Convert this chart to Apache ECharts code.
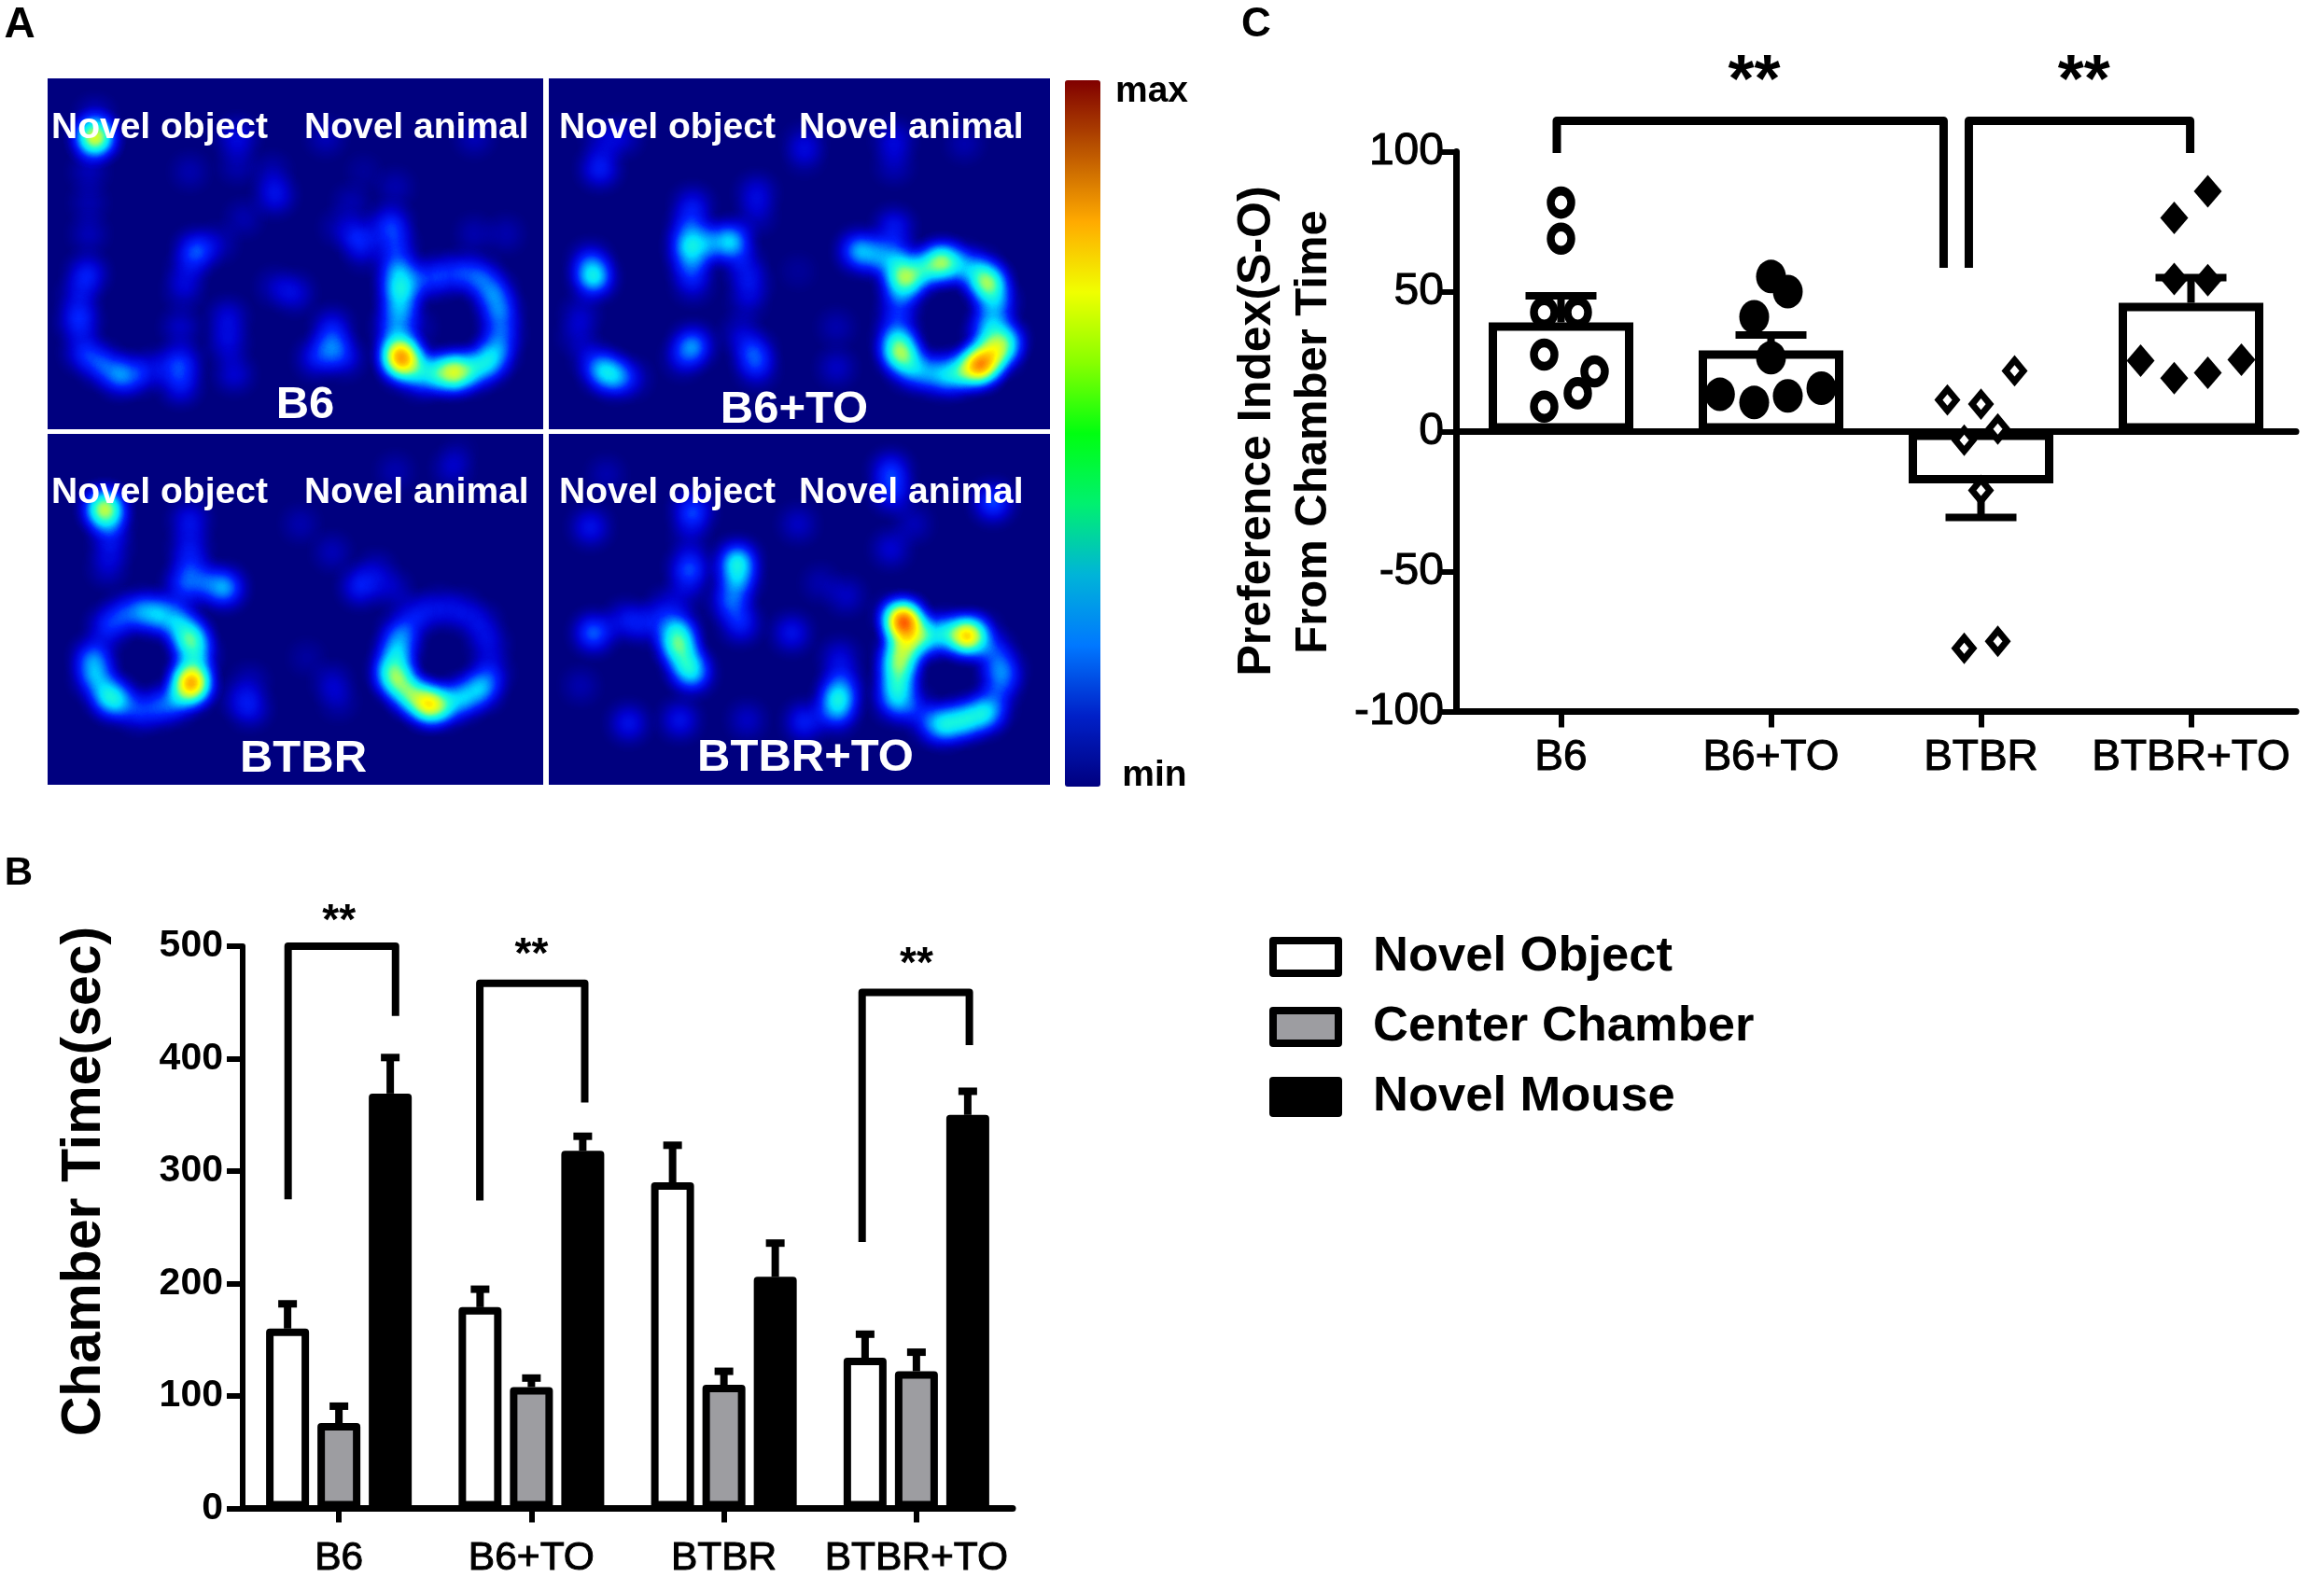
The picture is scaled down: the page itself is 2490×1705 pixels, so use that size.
<!DOCTYPE html>
<html><head><meta charset="utf-8">
<style>html,body{margin:0;padding:0;background:#fff}#c{width:2490px;height:1705px}</style>
<script src="https://cdn.jsdelivr.net/npm/echarts@6/dist/echarts.min.js"></script>
</head><body><div id="c"></div>
<script>
const FONT = '"Liberation Sans", Arial, sans-serif';
const categories = ['B6', 'B6+TO', 'BTBR', 'BTBR+TO'];

// Panel B: chamber time (sec)
const novelObject = [160, 179, 290, 134];
const centerChamber = [76, 108, 110, 122];
const novelMouse = [369, 318, 206, 350];
const novelObjectErr = [182, 195, 323, 155];
const centerChamberErr = [91, 116, 122, 139];
const novelMouseErr = [401, 331, 236, 371];
const timeTicks = [0, 100, 200, 300, 400, 500];
const bracketB1 = [[-0.264, 275], [-0.264, 500], [0.294, 500], [0.294, 438]];
const bracketB2 = [[0.732, 274], [0.732, 467], [1.277, 467], [1.277, 361]];
const bracketB3 = [[2.718, 237], [2.718, 459], [3.275, 459], [3.275, 412]];
const starsB = [[0, 528], [1, 498], [3, 490]];

// Panel C: preference index
const prefMean = [39, 29, -18.5, 46];
const prefErr = [48.5, 34.5, -30.7, 55];
const ptsB6 = [[0, 81.8], [0, 68.9], [-0.08, 42.6], [0.08, 42.6], [-0.08, 27.5], [0.16, 21.5], [0.08, 13.7], [-0.08, 8.9]];
const ptsB6TO = [[1, 55.4], [1.08, 50], [0.92, 41], [1, 26.4], [0.757, 13.3], [0.92, 10.4], [1.08, 12.75], [1.24, 15.5]];
const ptsBTBR = [[2.16, 21.7], [1.84, 11.3], [2, 9.8], [2.08, 0.9], [1.92, -3.1], [2, -21], [2.08, -74.9], [1.92, -77.4]];
const ptsBTBRTO = [[3.08, 85.8], [2.92, 76.3], [2.92, 54.5], [3.08, 54.1], [2.76, 25.3], [3.24, 25.7], [2.92, 19.1], [3.08, 21]];
const bracketC1 = [[-0.02, 99.5], [-0.02, 111], [1.822, 111], [1.822, 58.5]];
const bracketC2 = [[1.942, 58.5], [1.942, 111], [2.996, 111], [2.996, 99.5]];
const starsC = [[0.92, 129.5], [2.49, 129.5]];

const heatB6 = [[150,190,.85],[150,120,.15],[600,190,.22],[880,190,.12],[1350,190,.12],[130,300,.12],[130,400,.1],[130,500,.12],[125,630,.3],[100,700,.2],[100,780,.35],[115,880,.3],[170,920,.35],[230,955,.48],[290,950,.25],[350,930,.15],[420,915,.35],[420,985,.28],[420,800,.15],[430,680,.15],[470,555,.42],[440,620,.15],[540,530,.12],[620,450,.1],[720,375,.25],[710,300,.1],[600,280,.1],[450,300,.1],[570,770,.2],[570,850,.2],[590,950,.18],[780,690,.2],[720,670,.12],[900,865,.4],[900,800,.25],[850,900,.25],[940,900,.2],[985,510,.3],[1000,560,.12],[920,480,.1],[960,400,.1],[1085,470,.35],[1100,540,.3],[1110,620,.5],[1115,680,.62],[1115,740,.45],[1100,800,.4],[1110,870,.5],[1120,900,.75],[1125,930,.45],[1180,960,.35],[1230,950,.5],[1285,945,.55],[1340,940,.5],[1390,915,.55],[1420,880,.4],[1435,820,.35],[1430,750,.42],[1410,690,.42],[1370,640,.35],[1310,625,.3],[1240,635,.3],[1180,650,.25],[1170,800,.1],[1180,920,.25],[1450,500,.1],[1350,500,.1],[1000,300,.06],[1100,350,.1],[150,190,.6],[1118,895,.8],[1285,945,.7]];
const heatB6TO = [[160,290,.3],[170,200,.15],[230,190,.15],[800,210,.15],[1080,200,.2],[1080,280,.12],[1300,210,.1],[650,370,.2],[650,440,.12],[800,250,.1],[140,640,.7],[130,590,.3],[450,410,.25],[440,480,.3],[440,540,.6],[500,530,.4],[570,525,.65],[445,600,.35],[450,660,.2],[610,600,.2],[630,660,.2],[170,940,.55],[210,960,.45],[130,900,.15],[260,965,.15],[450,860,.5],[420,900,.2],[640,880,.35],[650,930,.25],[600,820,.15],[100,760,.15],[90,830,.12],[620,720,.12],[900,930,.15],[900,800,.1],[780,620,.06],[970,555,.55],[1030,570,.42],[1080,480,.28],[1090,580,.45],[1100,640,.6],[1130,640,.65],[1180,610,.5],[1230,590,.6],[1290,600,.4],[1345,620,.45],[1375,660,.6],[1400,720,.45],[1385,780,.42],[1370,830,.4],[1420,850,.45],[1100,700,.35],[1090,770,.25],[1090,840,.5],[1100,885,.7],[1130,930,.45],[1180,945,.4],[1240,955,.5],[1290,945,.6],[1345,925,.7],[1370,905,.55],[1410,880,.55],[1430,840,.35],[1230,590,.5],[1375,660,.5],[1345,925,.9],[1375,900,.3],[1100,880,.3]];
const heatBTBR = [[180,240,.7],[195,290,.3],[200,360,.2],[190,430,.15],[450,280,.25],[450,370,.25],[450,440,.25],[560,495,.55],[500,480,.3],[430,490,.3],[350,580,.5],[300,570,.4],[410,600,.5],[450,660,.65],[470,710,.5],[460,800,.6],[450,770,.4],[450,830,.45],[400,860,.4],[350,880,.25],[290,890,.3],[220,860,.5],[190,840,.55],[150,780,.5],[145,720,.45],[190,620,.3],[240,580,.3],[640,880,.25],[640,800,.12],[600,850,.1],[990,490,.3],[800,290,.1],[900,380,.12],[1100,120,.1],[1280,110,.15],[1300,60,.05],[1040,440,.15],[1090,500,.15],[900,800,.15],[920,860,.1],[820,720,.07],[1120,640,.4],[1105,700,.55],[1090,760,.55],[1110,800,.55],[1150,840,.55],[1200,870,.6],[1250,875,.5],[1310,850,.55],[1370,820,.55],[1400,770,.25],[1395,680,.2],[1370,610,.2],[1310,570,.2],[1240,560,.2],[1170,580,.25],[180,240,.6],[455,800,.9],[450,650,.3],[1210,870,.8],[1100,780,.35],[1150,840,.3]];
const heatBTBRTO = [[130,300,.25],[450,250,.4],[440,330,.12],[780,290,.15],[1070,120,.35],[1075,190,.3],[1140,290,.12],[1390,220,.4],[1070,370,.18],[180,130,.1],[140,640,.45],[240,600,.25],[310,610,.25],[440,430,.4],[430,500,.15],[590,410,.7],[590,470,.5],[570,540,.4],[600,610,.3],[400,630,.55],[405,680,.6],[430,740,.55],[450,770,.5],[370,560,.2],[250,930,.25],[410,920,.25],[100,810,.1],[620,920,.15],[760,640,.25],[910,720,.2],[930,520,.15],[850,480,.1],[905,850,.6],[915,800,.3],[900,895,.4],[800,925,.3],[1110,600,.7],[1115,630,.45],[1075,580,.2],[1130,670,.6],[1180,650,.6],[1240,640,.55],[1305,650,.7],[1350,640,.25],[1390,700,.35],[1420,760,.4],[1410,810,.3],[1100,700,.7],[1095,750,.6],[1090,810,.6],[1085,860,.45],[1140,880,.25],[1240,935,.6],[1300,920,.65],[1360,900,.6],[1390,880,.25],[1200,930,.3],[1110,600,.9],[1110,600,.5],[1310,650,.9],[405,680,.3],[1095,750,.25]];
const heatPanels = [heatB6, heatB6TO, heatBTBR, heatBTBRTO];
const heatColors = ['#00007f','#0000d0','#0020ff','#0080ff','#00e0ff','#20ffd0','#a0ff60','#ffff00','#ffa000','#ff2000','#800000'];
const scaleColors = ['#000080','#0020c8','#0078ff','#00b4d8','#00f070','#00ff10','#88ff00','#f0ff00','#ffaa00','#bb5500','#800000'];

const panelBoxes = [[51,84,531,376],[588,84,537,376],[51,465,531,376],[588,465,537,376]];
const panelTags = [['B6',327,434],['B6+TO',851,439],['BTBR',325,813],['BTBR+TO',863,812]];
const OBJ = 'Novel object', ANI = 'Novel animal';

echarts.registerMap('arena', {type:'FeatureCollection', features:[{type:'Feature', properties:{name:'arena'},
  geometry:{type:'Polygon', coordinates:[[[0,0],[1568,0],[1568,1128],[0,1128],[0,0]]]}}]});

function errorSeries(name, values, refs, xAxis, yAxis, offset, capW, stemW) {
  return {
    type:'custom', name, xAxisIndex:xAxis, yAxisIndex:yAxis, z:2, clip:false,
    data: values.map((v,i)=>[i, refs[i], v]),
    renderItem(params, api) {
      const a = api.coord([api.value(0), api.value(1)]);
      const b = api.coord([api.value(0), api.value(2)]);
      const x = a[0] + offset;
      const style = {stroke:'#000', lineWidth:stemW, fill:'none'};
      return {type:'group', children:[
        {type:'line', shape:{x1:x, y1:a[1], x2:x, y2:b[1]}, style},
        {type:'line', shape:{x1:x-capW/2, y1:b[1], x2:x+capW/2, y2:b[1]}, style:{stroke:'#000', lineWidth:8}}
      ]};
    }
  };
}
function barB(name, data, fill) {
  return {type:'bar', name, data, xAxisIndex:0, yAxisIndex:0, barWidth:46, barGap:'19.6%', z:3,
    itemStyle:{color:fill, borderColor:'#000', borderWidth:8, borderJoin:'round'}};
}
function bracket(data, xAxis, yAxis, w) {
  return {type:'line', data, xAxisIndex:xAxis, yAxisIndex:yAxis, showSymbol:false, symbol:'none', clip:false, z:5,
    lineStyle:{color:'#000', width:w, join:'round', cap:'butt'}, animation:false, silent:true};
}
function stars(data, xAxis, yAxis, size, dy) {
  return {type:'scatter', data, xAxisIndex:xAxis, yAxisIndex:yAxis, symbolSize:1, clip:false, z:6, silent:true,
    itemStyle:{color:'transparent', opacity:1},
    label:{show:true, position:'inside', formatter:'**', color:'#000', fontFamily:FONT, fontWeight:'bold', fontSize:size, offset:[0,dy]}};
}
function points(data, symbol, size, fill, bw) {
  return {type:'scatter', data, xAxisIndex:3, yAxisIndex:1, symbol, symbolSize:size, z:6, clip:false,
    itemStyle:{color:fill, borderColor:'#000', borderWidth:bw, borderJoin:'miter', opacity:1}};
}
function tag(text, x, y, size, align) {
  return {type:'text', x, y, z:100, silent:true, style:{text, fill:'#fff', fontFamily:FONT, fontWeight:'bold', fontSize:size, align:align||'center', verticalAlign:'middle'}};
}
function blackTag(text, x, y, size, rotation) {
  const t = tag(text, x, y, size);
  t.style.fill = '#000';
  if (rotation) t.rotation = rotation;
  return t;
}
const axisLine = w => ({show:true, onZero:false, lineStyle:{color:'#000', width:w}});
const axisTick = (w,len) => ({show:true, length:len, lineStyle:{color:'#000', width:w}});

const heatSeries = heatPanels.map((pts,i)=>({
  type:'heatmap', coordinateSystem:'geo', geoIndex:i, pointSize:14, blurSize:22, minOpacity:1, maxOpacity:1, z:3, silent:true,
  data: pts.map(p=>[p[0], 1128-p[1], p[2]])
}));
const geos = panelBoxes.map(b=>({
  map:'arena', left:b[0], top:b[1], width:b[2], height:b[3], aspectScale:(b[2]/b[3])/(1568/1128), silent:true, z:1,
  label:{show:false}, itemStyle:{areaColor:'#00007f', borderWidth:0}, emphasis:{disabled:true}, select:{disabled:true}, tooltip:{show:false}
}));
const labels = [];
[[55,326,137],[599,856,137],[55,326,528],[599,856,528]].forEach(r=>{
  labels.push(tag(OBJ, r[0], r[2], 39, 'left'));
  labels.push(tag(ANI, r[1], r[2], 39, 'left'));
});
panelTags.forEach(t=>labels.push(tag(t[0], t[1], t[2], 49)));

const pitchB = 55;
const series = heatSeries.concat([
  barB('Novel Object', novelObject, '#fff'),
  barB('Center Chamber', centerChamber, '#9d9da1'),
  barB('Novel Mouse', novelMouse, '#000'),
  errorSeries('errObject', novelObjectErr, novelObject, 0, 0, -pitchB, 20, 8),
  errorSeries('errCenter', centerChamberErr, centerChamber, 0, 0, 0, 20, 8),
  errorSeries('errMouse', novelMouseErr, novelMouse, 0, 0, pitchB, 20, 8),
  bracket(bracketB1,1,0,8), bracket(bracketB2,1,0,8), bracket(bracketB3,1,0,8),
  stars(starsB,1,0,46,8),
  {type:'bar', name:'Preference', data:prefMean, xAxisIndex:2, yAxisIndex:1, barWidth:155, z:3,
    itemStyle:{color:'#fff', borderColor:'#000', borderWidth:9}},
  errorSeries('errPref', prefErr, prefMean, 2, 1, 0, 76, 8),
  points(ptsB6,'circle',[22,25],'#fff',9),
  points(ptsB6TO,'circle',[32,36],'#000',0),
  points(ptsBTBR,'diamond',[19,23],'#fff',7),
  points(ptsBTBRTO,'diamond',[30,35],'#000',0),
  bracket(bracketC1,3,1,9), bracket(bracketC2,3,1,9),
  stars(starsC,3,1,72,15)
]);

const option = {
  animation:false, backgroundColor:'#fff',
  textStyle:{fontFamily:FONT},
  geo: geos,
  visualMap:[
    {type:'continuous', show:false, min:0, max:1, seriesIndex:[0,1,2,3], dimension:2, inRange:{color:heatColors}},
    {type:'continuous', show:true, min:0, max:1, seriesIndex:[], left:1141, top:86, itemWidth:38, itemHeight:757, padding:0,
      calculable:false, showLabel:false, text:null, hoverLink:false, inRange:{color:scaleColors}}
  ],
  grid:[
    {left:260, top:1014, width:825, height:602.6},
    {left:1560, top:162.5, width:900, height:600}
  ],
  legend:{data:['Novel Object','Center Chamber','Novel Mouse'], orient:'vertical', left:1360, top:999, padding:0,
    itemWidth:70, itemHeight:35, itemGap:22, icon:'rect', selectedMode:false,
    itemStyle:{borderColor:'#000', borderWidth:8},
    textStyle:{fontFamily:FONT, fontWeight:'bold', fontSize:52.5, color:'#000', padding:[0,0,0,32]}},
  xAxis:[
    {type:'category', gridIndex:0, data:categories, position:'bottom', axisLine:axisLine(7), axisTick:Object.assign(axisTick(6,15),{alignWithLabel:true}),
      axisLabel:{color:'#000', fontFamily:FONT, fontSize:42.5, margin:32, interval:0, textBorderColor:'#000', textBorderWidth:1}, splitLine:{show:false}},
    {type:'value', gridIndex:0, min:-0.5, max:3.5, show:false, splitLine:{show:false}},
    {type:'category', gridIndex:1, data:categories, position:'bottom', axisLine:axisLine(7), axisTick:Object.assign(axisTick(6,17),{alignWithLabel:true}),
      axisLabel:{color:'#000', fontFamily:FONT, fontSize:46, margin:27, interval:0, textBorderColor:'#000', textBorderWidth:1}, splitLine:{show:false}},
    {type:'value', gridIndex:1, min:-0.5, max:3.5, show:true, position:'bottom', axisLine:{show:true, onZero:true, lineStyle:{color:'#000', width:7}}, axisTick:{show:false}, axisLabel:{show:false}, splitLine:{show:false}}
  ],
  yAxis:[
    {type:'value', gridIndex:0, min:timeTicks[0], max:timeTicks[timeTicks.length-1], interval:100, axisLine:axisLine(6), axisTick:axisTick(6,17),
      axisLabel:{color:'#000', fontFamily:FONT, fontWeight:'bold', fontSize:41, margin:21}, splitLine:{show:false}},
    {type:'value', gridIndex:1, min:-100, max:100, interval:50, axisLine:axisLine(7), axisTick:axisTick(6,17),
      axisLabel:{color:'#000', fontFamily:FONT, fontSize:48, margin:13, textBorderColor:'#000', textBorderWidth:1}, splitLine:{show:false}}
  ],
  graphic:{elements:labels.concat([
    blackTag('A', 21, 27, 46),
    blackTag('B', 20, 936, 42),
    blackTag('C', 1346, 27, 44),
    blackTag('max', 1234, 98, 39),
    blackTag('min', 1237, 831, 39),
    blackTag('Chamber Time(sec)', 91, 1266, 59, Math.PI/2),
    blackTag('Preference Index(S-O)', 1347, 462, 50, Math.PI/2),
    blackTag('From Chamber Time', 1407, 463, 49, Math.PI/2)
  ])},
  series
};
const chart = echarts.init(document.getElementById('c'), null, {renderer:'canvas', width:2490, height:1705});
chart.setOption(option);
</script></body></html>
